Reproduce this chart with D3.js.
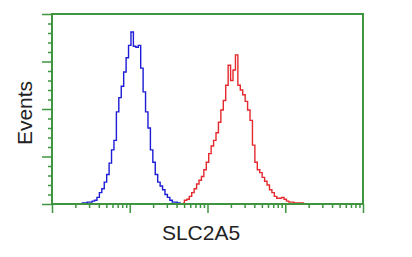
<!DOCTYPE html>
<html>
<head>
<meta charset="utf-8">
<script src="https://cdn.jsdelivr.net/npm/d3@7"></script>
<style>
  html, body { margin: 0; padding: 0; background: #fff; }
  svg { display: block; }
</style>
</head>
<body>
<div id="chart"></div>
<script>
// histogram data, 32 channels per log decade
const channelsPerDecade = 32
const blueFirstChannel = 12
const blueCounts = [0, 1, 1, 2, 2, 3, 4, 7, 12, 16, 23, 31, 43, 57, 67, 97, 112, 124, 139, 154, 167, 181,
  166, 165, 167, 143, 118, 97, 80, 57, 44, 31, 23, 19, 15, 10, 7, 4, 2, 2, 1, 1]
const redFirstChannel = 54
const redCounts = [1, 4, 5, 8, 12, 16, 21, 25, 29, 36, 44, 53, 61, 67, 75, 86, 99, 109, 125, 146,
  130, 141, 157, 125, 120, 115, 108, 99, 88, 62, 44, 36, 33, 28, 24, 20, 15, 12, 8, 6, 6, 7, 5, 3,
  2, 2, 1, 1, 1, 1, 0, 0]

const yMajorTicks = [0, 50, 100, 150, 200]
const yMinorTicks = [10, 20, 30, 40, 60, 70, 80, 90, 110, 120, 130, 140, 160, 170, 180, 190]
const xMajorTicks = [1, 10, 100, 1000, 10000]
const xMinorTicks = [2, 3, 4, 5, 6, 7, 8, 9, 20, 30, 40, 50, 60, 70, 80, 90,
  200, 300, 400, 500, 600, 700, 800, 900, 2000, 3000, 4000, 5000, 6000, 7000, 8000, 9000]
const xLabel = 'SLC2A5'
const yLabel = 'Events'

const width = 412, height = 257
const padding = { top: 14, left: 52, right: 49, bottom: 53 }
const green = '#3f943f'

const svg = d3.select('#chart').append('svg')
  .attr('width', width)
  .attr('height', height)

const x = d3.scaleLog()
  .domain([1, 10000])
  .range([padding.left, width - padding.right])
const y = d3.scaleLinear()
  .domain([0, 200])
  .range([height - padding.bottom, padding.top])

const channelValue = ch => Math.pow(10, ch / channelsPerDecade)

// axes (ticks only, frame drawn separately)
function drawAxis (axis, transform) {
  const g = svg.append('g')
    .attr('transform', transform)
    .call(axis)
  g.select('.domain').remove()
  g.selectAll('line').attr('stroke', green).attr('stroke-width', 1.5)
}
drawAxis(d3.axisLeft(y).tickValues(yMajorTicks).tickSize(10).tickFormat(''),
  'translate(' + padding.left + ',0)')
drawAxis(d3.axisLeft(y).tickValues(yMinorTicks).tickSize(4).tickFormat(''),
  'translate(' + padding.left + ',0)')
drawAxis(d3.axisBottom(x).tickValues(xMajorTicks).tickSize(9).tickFormat(''),
  'translate(0,' + (height - padding.bottom) + ')')
drawAxis(d3.axisBottom(x).tickValues(xMinorTicks).tickSize(4).tickFormat(''),
  'translate(0,' + (height - padding.bottom) + ')')

// histogram lines
function drawHist (counts, first, color) {
  const line = d3.line()
    .x((d, i) => x(channelValue(first + i)))
    .y(d => y(d))
    .curve(d3.curveStep)
  svg.append('path')
    .attr('d', line(counts))
    .attr('fill', 'none')
    .attr('stroke', color)
    .attr('stroke-width', 1.4)
}
drawHist(blueCounts, blueFirstChannel, '#1c1cd6')
drawHist(redCounts, redFirstChannel, '#e42a2e')

// frame
svg.append('rect')
  .attr('x', padding.left)
  .attr('y', padding.top)
  .attr('width', width - padding.left - padding.right)
  .attr('height', height - padding.top - padding.bottom)
  .attr('fill', 'none')
  .attr('stroke', green)
  .attr('stroke-width', 2)

// labels
svg.append('text')
  .attr('x', 201)
  .attr('y', 240)
  .attr('text-anchor', 'middle')
  .attr('font-family', 'Liberation Sans, Arial, sans-serif')
  .attr('font-size', 21)
  .attr('fill', '#222')
  .text(xLabel)
svg.append('text')
  .attr('transform', 'translate(32,113) rotate(-90)')
  .attr('text-anchor', 'middle')
  .attr('font-family', 'Liberation Sans, Arial, sans-serif')
  .attr('font-size', 21)
  .attr('fill', '#222')
  .text(yLabel)
</script>
</body>
</html>
